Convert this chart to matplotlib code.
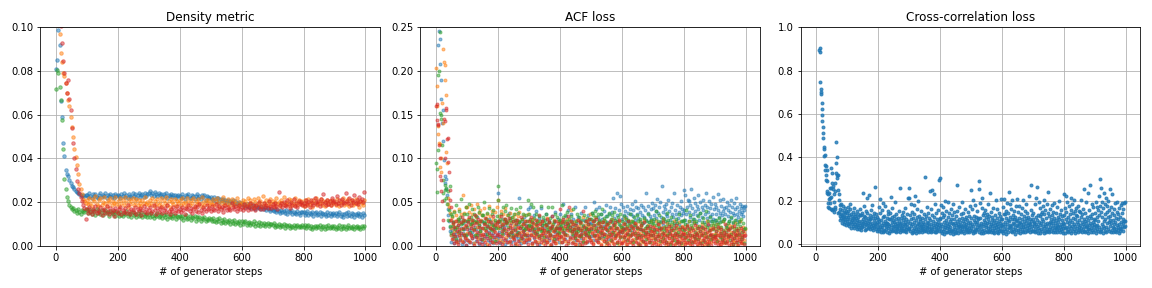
import numpy as np
import matplotlib
matplotlib.use("Agg")
import matplotlib.pyplot as plt

# Density metric, units of 1e-4, one value every 4 generator steps
density_blue = [
    810, 850, 985, 920, 660, 590, 470, 410, 345, 330, 318, 300, 288, 276, 268, 258, 250, 246, 240, 236, 232, 229, 234, 228, 231,
    233, 222, 241, 228, 219, 236, 230, 239, 225, 218, 234, 240, 223, 231, 227, 242, 221, 235, 229, 238, 224, 232, 220, 237, 226,
    235, 226, 220, 239, 229, 243, 224, 233, 219, 237, 230, 222, 241, 227, 236, 221, 234, 242, 225, 232, 238, 223, 240, 229, 236,
    244, 250, 233, 241, 229, 246, 238, 226, 243, 232, 239, 224, 236, 230, 242, 221, 234, 227, 238, 223, 231, 235, 220, 229, 233,
    230, 219, 236, 225, 215, 232, 228, 238, 221, 217, 233, 226, 214, 229, 237, 220, 227, 216, 231, 224, 235, 212, 228, 222, 218,
    224, 214, 211, 222, 206, 217, 219, 203, 213, 208, 216, 199, 210, 205, 212, 196, 207, 201, 209, 193, 204, 198, 190, 202, 195,
    197, 186, 193, 180, 190, 184, 178, 191, 175, 186, 181, 170, 184, 177, 173, 182, 168, 176, 171, 179, 163, 174, 168, 160, 171,
    165, 158, 170, 154, 163, 160, 149, 166, 156, 161, 151, 164, 147, 158, 155, 162, 145, 157, 152, 148, 160, 150, 143, 156, 153,
    155, 143, 152, 158, 140, 150, 146, 157, 138, 149, 153, 141, 147, 156, 137, 151, 144, 148, 139, 154, 142, 150, 135, 147, 152,
    140, 151, 136, 146, 155, 139, 148, 133, 144, 150, 137, 153, 142, 135, 149, 145, 131, 147, 140, 152, 138, 144, 134, 150, 141,
]
density_orange = [
    1120, 1060, 1010, 970, 880, 840, 790, 775, 745, 700, 665, 640, 590, 545, 500, 445, 405, 368, 330, 285, 262, 238, 214, 205, 198,
    212, 190, 221, 198, 184, 215, 205, 226, 193, 181, 209, 219, 188, 201, 224, 195, 183, 211, 203, 217, 186, 207, 197, 222, 191,
    205, 183, 218, 196, 210, 187, 223, 199, 180, 214, 192, 206, 220, 185, 201, 216, 189, 208, 195, 182, 212, 198, 225, 190, 203,
    186, 211, 197, 220, 181, 205, 193, 214, 188, 200, 218, 183, 209, 195, 222, 187, 204, 179, 213, 199, 190, 216, 184, 207, 196,
    210, 188, 217, 194, 203, 182, 221, 199, 186, 212, 195, 219, 180, 206, 191, 215, 198, 184, 224, 202, 189, 211, 196, 208, 185,
    203, 191, 214, 185, 207, 219, 194, 180, 211, 198, 222, 187, 205, 193, 216, 182, 200, 213, 189, 206, 195, 218, 184, 201, 190,
    197, 212, 183, 204, 191, 220, 188, 208, 195, 179, 213, 199, 186, 217, 194, 205, 181, 228, 196, 189, 210, 185, 202, 215, 192,
    206, 184, 199, 218, 190, 203, 181, 212, 196, 223, 187, 201, 193, 214, 182, 208, 195, 188, 219, 200, 186, 211, 197, 205, 191,
    183, 209, 196, 187, 214, 192, 203, 180, 211, 198, 220, 185, 201, 194, 216, 189, 206, 182, 199, 212, 190, 204, 186, 208, 195,
    201, 186, 213, 194, 181, 207, 198, 219, 188, 204, 192, 215, 183, 200, 209, 187, 196, 214, 190, 203, 179, 206, 195, 188, 210,
]
density_green = [
    717, 805, 790, 727, 668, 575, 445, 305, 258, 222, 205, 188, 180, 170, 172, 158, 163, 152, 170, 157, 148, 166, 160, 153, 171,
    162, 150, 171, 155, 146, 165, 158, 143, 168, 152, 160, 147, 163, 141, 157, 166, 149, 154, 139, 161, 151, 145, 158, 137, 153,
    150, 138, 155, 143, 135, 152, 147, 159, 136, 144, 149, 132, 156, 140, 146, 134, 151, 139, 143, 154, 131, 147, 138, 145, 130,
    145, 133, 149, 137, 128, 143, 139, 151, 130, 136, 146, 127, 141, 134, 148, 125, 138, 132, 144, 129, 135, 142, 124, 137, 131,
    139, 126, 135, 120, 131, 142, 124, 129, 136, 118, 133, 127, 138, 116, 130, 123, 134, 115, 128, 121, 132, 113, 125, 119, 129,
    124, 112, 127, 116, 108, 121, 114, 126, 105, 118, 111, 123, 103, 115, 109, 120, 101, 113, 107, 118, 99, 111, 104, 116, 98,
    112, 99, 108, 115, 96, 105, 110, 94, 106, 101, 113, 92, 104, 98, 109, 91, 103, 97, 107, 89, 100, 105, 93, 99, 102,
    96, 103, 88, 97, 93, 101, 86, 95, 90, 99, 84, 94, 91, 98, 83, 92, 88, 97, 82, 90, 95, 85, 93, 87, 96,
    86, 94, 80, 89, 97, 83, 91, 78, 88, 93, 81, 90, 85, 96, 79, 87, 92, 77, 89, 84, 95, 80, 86, 91, 82,
    93, 79, 87, 84, 95, 76, 89, 82, 91, 78, 86, 94, 80, 88, 83, 92, 77, 85, 90, 81, 87, 79, 93, 84, 89,
]
density_red = [
    1150, 1100, 1060, 1030, 1005, 925, 845, 790, 745, 700, 760, 672, 620, 540, 470, 400, 350, 295, 262, 240, 222, 205, 188, 175, 122,
    168, 152, 176, 160, 145, 171, 158, 182, 149, 165, 155, 178, 143, 162, 170, 151, 184, 159, 147, 173, 156, 166, 139, 175, 161,
    152, 169, 180, 146, 163, 157, 174, 150, 186, 160, 144, 171, 165, 153, 179, 148, 167, 158, 175, 141, 162, 183, 154, 170, 149,
    166, 176, 151, 159, 185, 163, 147, 172, 157, 168, 180, 150, 164, 174, 155, 189, 161, 145, 170, 158, 177, 152, 166, 181, 160,
    171, 155, 179, 163, 148, 175, 167, 186, 158, 172, 152, 169, 183, 161, 176, 157, 190, 165, 150, 178, 170, 160, 185, 167, 173,
    158, 181, 170, 164, 192, 175, 160, 184, 168, 178, 155, 173, 187, 165, 180, 171, 162, 195, 176, 168, 183, 159, 174, 188, 169,
    180, 165, 191, 173, 184, 162, 177, 197, 170, 186, 175, 164, 189, 179, 200, 171, 183, 168, 194, 176, 187, 172, 205, 181, 174,
    190, 178, 198, 184, 170, 246, 186, 195, 177, 203, 188, 181, 210, 192, 175, 199, 186, 215, 183, 196, 179, 204, 190, 200, 187,
    197, 184, 212, 192, 201, 180, 208, 195, 187, 221, 199, 190, 206, 183, 214, 196, 238, 202, 188, 210, 193, 205, 185, 217, 199,
    204, 191, 226, 198, 210, 186, 215, 202, 194, 240, 207, 196, 219, 189, 212, 203, 232, 198, 211, 193, 222, 205, 214, 199, 245,
]

# ACF loss, units of 1e-3, one value every 2 generator steps
acf_blue = [
    310, 292, 275, 260, 229, 245, 208, 236, 190, 168, 140, 155, 120, 98, 80, 72, 76, 65, 58, 42, 35, 28, 22, 17, 12,
    5, 18, 27, 9, 14, 3, 21, 7, 16, 11, 24, 4, 17, 30, 8, 20, 13, 2, 26, 15, 6, 19, 10, 23, 1,
    14, 28, 7, 18, 5, 25, 12, 21, 9, 16, 3, 27, 11, 22, 6, 19, 33, 10, 15, 2, 24, 8, 17, 13, 29,
    4, 20, 9, 26, 14, 1, 18, 11, 23, 7, 16, 31, 5, 21, 12, 8, 25, 15, 3, 19, 10, 27, 6, 13, 22,
    60, 9, 16, 3, 27, 11, 22, 6, 31, 14, 19, 2, 24, 8, 17, 29, 5, 13, 38, 10, 20, 4, 26, 15, 12,
    18, 7, 23, 1, 30, 11, 16, 9, 25, 55, 6, 21, 13, 3, 28, 17, 8, 33, 14, 19, 5, 24, 10, 42, 12,
    18, 7, 44, 23, 12, 3, 28, 16, 35, 9, 21, 5, 40, 14, 26, 11, 2, 32, 19, 8, 43, 24, 13, 30, 6,
    20, 15, 37, 4, 25, 10, 17, 29, 7, 22, 14, 1, 34, 18, 11, 27, 6, 39, 16, 9, 23, 13, 31, 5, 20,
    22, 37, 10, 17, 4, 29, 48, 15, 25, 8, 34, 20, 12, 41, 3, 27, 18, 9, 36, 14, 23, 5, 31, 16, 45,
    11, 26, 7, 19, 33, 13, 2, 28, 21, 38, 9, 15, 24, 6, 30, 17, 44, 12, 20, 4, 27, 35, 10, 18, 25,
    26, 11, 38, 19, 7, 30, 50, 13, 24, 42, 6, 33, 17, 28, 45, 10, 36, 21, 15, 31, 9, 40, 23, 14, 34,
    47, 18, 27, 8, 37, 22, 44, 12, 29, 39, 16, 55, 25, 32, 11, 43, 20, 35, 60, 28, 15, 41, 57, 24, 48,
    31, 22, 44, 35, 18, 40, 27, 33, 14, 46, 29, 38, 20, 42, 25, 36, 48, 16, 34, 41, 24, 51, 30, 45, 37,
    21, 43, 32, 12, 39, 28, 47, 19, 35, 26, 44, 33, 15, 41, 30, 60, 23, 38, 46, 27, 34, 18, 42, 31, 49,
    28, 43, 35, 19, 47, 32, 40, 54, 26, 38, 44, 21, 50, 33, 29, 68, 39, 24, 46, 31, 42, 36, 48, 27, 34,
    52, 17, 40, 30, 45, 23, 37, 49, 33, 26, 61, 41, 29, 36, 14, 47, 32, 39, 25, 44, 35, 51, 28, 42, 38,
    64, 41, 30, 58, 37, 45, 25, 52, 39, 51, 33, 47, 65, 28, 43, 36, 55, 31, 49, 40, 26, 46, 35, 58, 42,
    30, 50, 38, 22, 44, 33, 53, 41, 27, 47, 36, 60, 32, 45, 24, 39, 51, 34, 43, 29, 48, 37, 56, 31, 42,
    30, 48, 37, 44, 27, 59, 41, 33, 52, 38, 29, 46, 35, 54, 40, 31, 43, 36, 45, 22, 50, 34, 41, 28, 47,
    39, 53, 32, 44, 26, 38, 49, 35, 42, 30, 55, 37, 45, 33, 40, 27, 48, 36, 43, 39, 46, 34, 41, 44, 46,
]
acf_orange = [
    203, 183, 160, 137, 128, 118, 116, 90, 85, 100, 163, 140, 225, 210, 207, 190, 172, 107, 95, 55, 48, 45, 30, 38, 20,
    12, 33, 25, 8, 40, 17, 28, 35, 22, 4, 31, 15, 26, 42, 10, 36, 19, 6, 29, 58, 14, 38, 23, 9, 45,
    44, 15, 31, 6, 39, 24, 47, 11, 29, 36, 19, 42, 3, 27, 33, 14, 48, 22, 9, 38, 26, 16, 41, 30, 12,
    35, 20, 7, 43, 25, 18, 32, 2, 37, 28, 13, 46, 21, 34, 10, 40, 24, 5, 31, 17, 39, 27, 8, 44, 23,
    52, 21, 34, 7, 28, 40, 13, 25, 37, 5, 31, 18, 43, 10, 26, 35, 15, 29, 4, 22, 38, 11, 27, 17, 33,
    9, 24, 36, 14, 30, 2, 20, 34, 12, 27, 39, 7, 23, 16, 31, 5, 25, 13, 35, 19, 8, 28, 15, 37, 21,
    9, 24, 30, 14, 27, 2, 20, 31, 12, 25, 6, 17, 23, 10, 28, 4, 19, 13, 26, 8, 21, 15, 29, 3, 18,
    11, 24, 7, 16, 32, 5, 22, 12, 27, 1, 14, 20, 9, 25, 17, 6, 30, 11, 19, 3, 23, 13, 28, 8, 16,
    11, 26, 4, 18, 29, 9, 22, 14, 27, 6, 20, 31, 12, 24, 3, 17, 28, 8, 41, 15, 25, 5, 19, 27, 10,
    21, 2, 16, 30, 13, 7, 23, 18, 1, 26, 11, 20, 33, 6, 15, 24, 9, 19, 4, 28, 14, 22, 10, 17, 36,
    23, 7, 16, 28, 3, 21, 12, 33, 9, 18, 25, 5, 14, 27, 11, 22, 2, 17, 27, 8, 15, 30, 6, 20, 13,
    1, 24, 10, 18, 4, 26, 12, 19, 7, 31, 15, 3, 22, 9, 16, 25, 11, 5, 20, 14, 28, 2, 18, 10, 23,
    4, 19, 11, 26, 7, 16, 32, 2, 13, 22, 9, 18, 5, 24, 12, 29, 3, 15, 21, 8, 26, 14, 6, 25, 10,
    17, 1, 20, 12, 27, 7, 15, 23, 4, 18, 10, 30, 13, 2, 21, 16, 8, 24, 11, 5, 19, 14, 28, 9, 17,
    17, 3, 23, 9, 14, 28, 6, 19, 11, 2, 25, 13, 8, 20, 4, 16, 31, 10, 22, 7, 14, 1, 18, 26, 12,
    5, 21, 9, 15, 3, 24, 11, 18, 7, 29, 13, 2, 17, 10, 22, 6, 14, 27, 4, 19, 8, 12, 23, 1, 16,
    5, 21, 9, 15, 3, 24, 11, 18, 7, 29, 13, 2, 17, 10, 22, 6, 14, 27, 4, 19, 8, 12, 23, 1, 16,
    9, 20, 4, 14, 25, 7, 12, 18, 2, 22, 10, 15, 6, 28, 11, 3, 17, 8, 21, 13, 5, 19, 9, 24, 14,
    9, 20, 4, 14, 25, 7, 12, 18, 2, 22, 10, 15, 6, 28, 11, 3, 17, 8, 21, 13, 5, 19, 9, 24, 14,
    11, 2, 16, 23, 7, 13, 20, 4, 26, 10, 17, 1, 14, 21, 8, 12, 29, 5, 18, 11, 3, 22, 15, 7, 19,
]
acf_green = [
    95, 88, 62, 110, 195, 200, 244, 152, 150, 145, 115, 60, 75, 52, 64, 70, 66, 55, 48, 63, 30, 41, 68, 23, 36,
    15, 34, 27, 23, 11, 39, 19, 8, 47, 22, 28, 31, 40, 16, 33, 25, 54, 26, 30, 19, 36, 13, 28, 44, 12,
    37, 22, 28, 31, 48, 16, 33, 25, 42, 26, 30, 19, 36, 13, 28, 34, 12, 27, 45, 24, 39, 20, 17, 29, 35,
    8, 35, 27, 50, 20, 26, 31, 14, 38, 22, 25, 43, 10, 28, 19, 36, 18, 24, 41, 23, 30, 6, 21, 34, 27,
    53, 68, 29, 31, 21, 37, 24, 15, 44, 18, 28, 31, 40, 27, 47, 26, 22, 35, 14, 30, 32, 43, 16, 33, 28,
    11, 36, 30, 19, 42, 25, 14, 38, 16, 27, 29, 44, 9, 23, 31, 20, 37, 18, 26, 13, 35, 21, 29, 23, 52,
    36, 24, 31, 23, 48, 19, 27, 45, 19, 32, 15, 25, 37, 16, 29, 21, 34, 11, 28, 46, 17, 24, 18, 33, 26,
    10, 30, 25, 37, 22, 18, 44, 17, 27, 12, 32, 20, 22, 45, 25, 8, 29, 18, 36, 20, 33, 21, 16, 15, 28,
    25, 30, 23, 47, 20, 26, 33, 18, 35, 14, 28, 20, 39, 24, 25, 31, 18, 22, 34, 17, 27, 12, 42, 19, 24,
    9, 29, 16, 36, 17, 21, 33, 11, 26, 12, 30, 18, 23, 5, 35, 14, 28, 19, 20, 32, 15, 25, 17, 11, 31,
    19, 31, 38, 24, 35, 13, 28, 40, 21, 33, 17, 37, 26, 9, 30, 23, 36, 15, 27, 42, 20, 32, 11, 29, 25,
    4, 34, 18, 26, 38, 14, 22, 31, 7, 27, 35, 16, 24, 39, 12, 30, 20, 3, 28, 33, 17, 25, 10, 36, 22,
    16, 28, 21, 34, 10, 25, 19, 31, 7, 23, 30, 14, 26, 37, 18, 12, 29, 22, 5, 27, 33, 15, 24, 9, 20,
    35, 13, 28, 2, 19, 31, 24, 11, 26, 17, 6, 32, 21, 14, 29, 8, 23, 36, 16, 27, 4, 20, 30, 12, 25,
    26, 13, 31, 18, 8, 24, 40, 16, 29, 11, 22, 35, 6, 19, 27, 14, 32, 9, 21, 17, 28, 4, 23, 38, 12,
    30, 15, 25, 2, 20, 33, 10, 27, 18, 7, 24, 14, 31, 21, 5, 26, 16, 37, 11, 22, 29, 3, 19, 13, 28,
    18, 30, 10, 25, 41, 15, 22, 7, 28, 19, 13, 35, 24, 5, 20, 31, 11, 26, 16, 9, 29, 21, 14, 34, 8,
    23, 17, 38, 3, 27, 12, 20, 32, 6, 25, 15, 40, 10, 22, 29, 1, 18, 33, 13, 24, 8, 28, 19, 11, 26,
    23, 12, 30, 17, 6, 25, 20, 32, 10, 27, 15, 22, 8, 29, 18, 13, 31, 4, 24, 16, 21, 11, 26, 19, 28,
    7, 33, 14, 22, 2, 27, 17, 9, 30, 20, 12, 25, 5, 18, 29, 14, 23, 8, 31, 16, 10, 26, 19, 3, 21,
]
acf_red = [
    160, 162, 144, 139, 138, 115, 100, 80, 75, 63, 51, 30, 20, 145, 143, 100, 155, 157, 122, 123, 96, 85, 64, 52, 45,
    30, 8, 26, 14, 3, 22, 11, 29, 6, 17, 24, 2, 13, 19, 7, 27, 15, 33, 4, 21, 12, 30, 9, 24, 1,
    19, 7, 27, 15, 33, 4, 21, 12, 30, 9, 24, 1, 18, 35, 10, 26, 6, 16, 31, 3, 22, 13, 28, 8, 20,
    2, 14, 25, 11, 32, 5, 17, 23, 9, 29, 1, 15, 21, 7, 27, 12, 4, 19, 34, 10, 24, 16, 3, 26, 13,
    14, 29, 5, 23, 11, 34, 17, 2, 25, 9, 20, 31, 7, 15, 27, 4, 19, 12, 32, 6, 24, 16, 1, 21, 10,
    28, 8, 18, 3, 26, 13, 30, 6, 22, 15, 1, 20, 11, 33, 9, 17, 25, 4, 14, 28, 7, 23, 12, 19, 2,
    28, 8, 18, 33, 13, 3, 22, 26, 10, 17, 6, 30, 14, 24, 2, 19, 35, 9, 25, 12, 5, 21, 29, 15, 7,
    18, 1, 24, 11, 31, 4, 16, 27, 9, 20, 13, 2, 23, 34, 6, 17, 11, 28, 3, 21, 14, 8, 26, 19, 10,
    20, 42, 11, 27, 4, 16, 31, 8, 23, 13, 1, 26, 18, 34, 6, 45, 22, 10, 29, 3, 17, 25, 9, 19, 12,
    2, 24, 15, 7, 30, 20, 11, 5, 27, 14, 18, 1, 40, 9, 22, 16, 3, 28, 12, 6, 25, 19, 10, 31, 7,
    5, 21, 15, 28, 2, 11, 24, 17, 7, 31, 13, 20, 4, 26, 9, 16, 23, 1, 18, 12, 27, 6, 14, 22, 8,
    19, 3, 25, 11, 16, 1, 29, 10, 20, 6, 14, 24, 2, 18, 9, 27, 13, 4, 21, 15, 7, 30, 11, 17, 3,
    16, 3, 19, 10, 25, 6, 13, 21, 2, 15, 28, 8, 18, 11, 4, 23, 14, 7, 20, 1, 17, 12, 26, 5, 9,
    22, 3, 15, 10, 19, 1, 24, 8, 13, 6, 18, 27, 4, 11, 16, 2, 21, 9, 14, 5, 23, 12, 7, 17, 1,
    13, 22, 4, 16, 9, 19, 2, 11, 25, 7, 14, 18, 1, 21, 10, 6, 15, 27, 3, 12, 8, 20, 5, 17, 11,
    2, 23, 9, 14, 4, 18, 7, 12, 1, 20, 10, 15, 3, 24, 8, 13, 6, 19, 2, 11, 16, 5, 22, 9, 14,
    7, 14, 2, 19, 10, 5, 23, 12, 16, 3, 9, 21, 6, 13, 1, 18, 11, 4, 24, 8, 15, 2, 12, 20, 6,
    10, 17, 3, 13, 1, 22, 7, 15, 9, 4, 19, 11, 2, 16, 8, 25, 5, 12, 18, 1, 14, 9, 21, 6, 11,
    10, 3, 17, 8, 13, 1, 22, 5, 11, 15, 2, 19, 7, 12, 4, 16, 9, 25, 3, 14, 6, 18, 10, 1, 13,
    20, 5, 11, 8, 16, 2, 23, 9, 14, 4, 12, 7, 18, 1, 15, 10, 6, 21, 3, 13, 8, 17, 2, 11, 12,
]

# Cross-correlation loss, units of 1e-3, one value per generator step
xcorr = [
    1400, 1350, 1290, 1240, 1200, 1160, 1110, 1080, 1050, 1030, 1010, 896, 902, 885, 745, 700, 717, 692, 649, 621, 594, 566, 538, 511, 488,
    446, 437, 406, 412, 365, 341, 360, 319, 296, 343, 290, 245, 238, 190, 229, 172, 210, 165, 235, 189, 260, 214, 161, 258, 350,
    219, 280, 158, 330, 255, 270, 160, 148, 195, 230, 172, 280, 163, 246, 376, 330, 469, 400, 304, 320, 250, 321, 143, 232, 204,
    148, 181, 128, 163, 112, 187, 139, 121, 156, 134, 98, 174, 125, 110, 147, 93, 132, 118, 166, 101, 142, 124, 88, 153, 115,
    142, 108, 171, 93, 126, 152, 99, 134, 84, 161, 117, 183, 102, 139, 76, 113, 128, 91, 149, 121, 82, 104, 166, 115, 73,
    131, 95, 138, 119, 86, 101, 154, 71, 112, 89, 141, 80, 124, 107, 68, 97, 162, 88, 136, 79, 133, 64, 109, 145, 92,
    78, 118, 238, 96, 130, 85, 174, 103, 66, 127, 94, 152, 72, 111, 214, 87, 143, 99, 75, 122, 226, 106, 81, 135, 69,
    116, 92, 158, 83, 121, 74, 100, 181, 90, 129, 67, 110, 146, 77, 98, 265, 84, 119, 71, 139, 93, 62, 125, 104, 80,
    72, 118, 94, 173, 63, 105, 81, 146, 207, 69, 112, 58, 87, 159, 77, 124, 54, 188, 99, 66, 131, 61, 89, 176, 108,
    70, 96, 83, 121, 57, 98, 151, 74, 93, 137, 52, 85, 116, 114, 62, 143, 90, 218, 68, 102, 127, 59, 169, 79, 110,
    65, 103, 86, 132, 60, 95, 196, 75, 114, 57, 141, 82, 99, 70, 123, 61, 88, 155, 73, 106, 56, 91, 258, 78, 119,
    64, 97, 135, 84, 67, 110, 59, 149, 92, 74, 126, 63, 101, 87, 166, 71, 117, 58, 94, 80, 138, 68, 212, 105, 76,
    212, 71, 257, 96, 60, 134, 82, 187, 115, 53, 91, 148, 67, 122, 58, 103, 179, 76, 140, 63, 88, 221, 72, 113, 51,
    164, 84, 125, 61, 97, 69, 198, 92, 131, 55, 108, 78, 117, 64, 153, 86, 70, 94, 120, 57, 101, 74, 83, 139, 62,
    95, 66, 115, 308, 81, 128, 59, 104, 172, 73, 90, 56, 146, 99, 68, 121, 85, 244, 63, 112, 76, 160, 54, 93, 249,
    71, 133, 87, 60, 107, 232, 79, 124, 58, 97, 185, 69, 142, 83, 55, 114, 91, 65, 157, 77, 102, 297, 61, 88, 120,
    305, 73, 116, 180, 62, 95, 142, 52, 86, 124, 60, 171, 104, 69, 133, 49, 90, 201, 81, 112, 58, 152, 74, 99, 54,
    126, 85, 193, 63, 92, 145, 71, 109, 50, 80, 162, 59, 118, 100, 67, 136, 48, 93, 184, 61, 114, 78, 147, 53, 97,
    72, 129, 88, 57, 272, 105, 66, 151, 79, 94, 51, 118, 83, 170, 62, 101, 75, 137, 56, 90, 123, 68, 196, 85, 107,
    59, 143, 77, 98, 52, 115, 86, 163, 64, 93, 127, 70, 55, 110, 81, 150, 61, 96, 74, 132, 58, 87, 176, 67, 103,
    74, 248, 123, 62, 91, 163, 51, 84, 202, 110, 60, 132, 70, 102, 181, 55, 93, 124, 64, 103, 80, 154, 119, 69, 115,
    289, 89, 255, 58, 192, 82, 122, 53, 98, 72, 166, 61, 211, 94, 135, 50, 85, 113, 144, 67, 104, 57, 157, 79, 126,
    88, 63, 138, 96, 54, 117, 76, 184, 101, 60, 129, 85, 71, 235, 92, 56, 148, 110, 67, 82, 125, 58, 97, 169, 74,
    113, 52, 89, 136, 66, 205, 103, 78, 57, 120, 94, 161, 70, 84, 53, 145, 107, 62, 99, 131, 75, 206, 87, 59, 116,
    63, 114, 83, 172, 52, 95, 137, 71, 208, 102, 60, 140, 86, 121, 49, 153, 92, 68, 190, 111, 58, 144, 81, 106, 240,
    183, 73, 125, 90, 59, 164, 84, 203, 116, 54, 134, 70, 99, 118, 61, 93, 155, 80, 127, 48, 176, 105, 66, 208, 89,
    112, 65, 147, 86, 57, 123, 98, 175, 72, 104, 53, 139, 81, 94, 167, 62, 115, 77, 202, 91, 58, 130, 106, 69, 152,
    84, 55, 121, 96, 183, 73, 110, 61, 143, 88, 67, 126, 99, 221, 78, 54, 117, 93, 159, 70, 105, 272, 83, 60, 134,
    117, 62, 146, 85, 100, 101, 55, 187, 72, 124, 94, 213, 60, 265, 83, 112, 50, 136, 76, 194, 103, 65, 167, 87, 129,
    53, 96, 140, 71, 148, 59, 118, 175, 82, 107, 51, 139, 74, 204, 91, 63, 157, 86, 123, 54, 185, 100, 68, 145, 61,
    240, 92, 70, 128, 57, 104, 160, 79, 115, 63, 96, 182, 73, 134, 55, 108, 87, 150, 66, 121, 190, 81, 98, 58, 142,
    75, 112, 69, 173, 90, 54, 125, 84, 103, 197, 64, 117, 78, 56, 138, 95, 71, 156, 86, 60, 111, 131, 76, 99, 53,
    231, 92, 134, 75, 165, 52, 114, 222, 81, 147, 60, 104, 195, 71, 126, 55, 97, 176, 84, 138, 63, 112, 214, 73, 157,
    50, 102, 86, 186, 121, 62, 144, 93, 205, 70, 116, 53, 154, 82, 133, 61, 168, 103, 74, 128, 56, 175, 95, 152, 80,
    113, 67, 148, 88, 59, 126, 204, 76, 101, 54, 137, 92, 161, 70, 118, 63, 255, 85, 106, 57, 142, 79, 193, 96, 61,
    124, 83, 236, 72, 110, 52, 158, 90, 68, 131, 99, 275, 74, 120, 58, 183, 87, 65, 140, 104, 55, 171, 81, 117, 94,
    113, 64, 145, 83, 196, 52, 124, 90, 171, 71, 157, 105, 60, 224, 136, 81, 54, 178, 299, 69, 259, 147, 62, 193, 94,
    127, 50, 166, 85, 235, 108, 73, 138, 61, 187, 118, 80, 215, 55, 149, 96, 176, 72, 125, 197, 103, 63, 159, 112, 255,
    86, 128, 58, 173, 97, 66, 142, 229, 80, 110, 54, 162, 91, 75, 134, 60, 188, 101, 70, 121, 57, 150, 87, 195, 64,
    114, 79, 139, 52, 168, 95, 73, 126, 59, 181, 104, 68, 145, 82, 192, 62, 118, 100, 163, 77, 191, 109, 84, 195, 107,
]

colours = ["C0", "C1", "C2", "C3"]

fig, axs = plt.subplots(1, 3, figsize=(16, 4), dpi=72)
fig.subplots_adjust(left=0.035, right=0.99, bottom=0.146, top=0.906, wspace=0.118)

# density metric
ax = axs[0]
for vals, c in zip([density_blue, density_orange, density_green, density_red], colours):
    y = np.array(vals) * 1e-4
    x = np.arange(len(y)) * 4
    ax.plot(x, y, "o", color=c, ms=3.5, alpha=0.5)
ax.set_ylim(0, 0.1)
ax.set_title("Density metric")

# ACF loss
ax = axs[1]
for vals, c in zip([acf_blue, acf_orange, acf_green, acf_red], colours):
    y = np.array(vals) * 1e-3
    x = np.arange(len(y)) * 2
    ax.plot(x, y, "o", color=c, ms=3, alpha=0.5)
ax.set_ylim(0, 0.25)
ax.set_title("ACF loss")

# cross-correlation loss
ax = axs[2]
y = np.array(xcorr) * 1e-3
x = np.arange(len(y))
ax.plot(x, y, "o", color="C0", ms=3, alpha=0.8)
ax.set_ylim(-0.008, 1.0)
ax.set_title("Cross-correlation loss")

for ax in axs:
    ax.set_xlim(-50, 1048)
    ax.set_xticks([0, 200, 400, 600, 800, 1000])
    ax.set_xlabel("# of generator steps")
    ax.grid(True)

plt.savefig("out.png")
